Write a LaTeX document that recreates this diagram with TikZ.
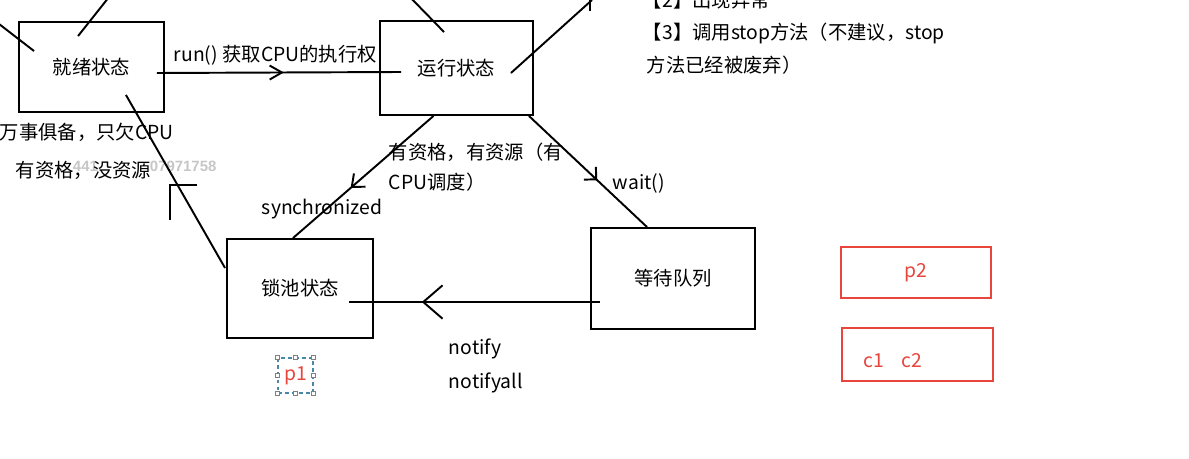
\documentclass[tikz,border=0pt]{standalone}
\usepackage{fontspec}
\setmainfont{Noto Sans CJK SC}
\newfontfamily\wmfont{Liberation Sans}
\usetikzlibrary{arrows.meta,calc,decorations.markings}
\definecolor{markred}{HTML}{E8453C}
\definecolor{selblue}{HTML}{4A86A8}
\tikzset{
  state/.style={draw, line width=1.1pt, inner sep=0pt},
  redbox/.style={draw=markred, line width=1.1pt, text=markred, inner sep=0pt},
  note/.style={anchor=west, inner sep=0pt},
  midarrow/.style n args={3}{postaction={decorate},
    decoration={markings, mark=at position #1 with {\arrow{Straight Barb[length=#2,width=#3]}}}},
}

\begin{document}
\begin{tikzpicture}[x=0.02cm, y=-0.02cm, line width=1.1pt, font=\fontsize{11pt}{13pt}\selectfont]
\useasboundingbox (0,0) rectangle (1189,459);
\clip (0,0) rectangle (1189,459);

% watermark under the text
\node[note, text=gray!45, font=\wmfont\bfseries\fontsize{8.5pt}{10pt}\selectfont] (wm1) at (72,166) {441};
\node[note, text=gray!45, font=\wmfont\bfseries\fontsize{8.5pt}{10pt}\selectfont] (wm2) at (149,166) {07971758};

% states
\node[state, minimum width=2.9cm, minimum height=1.8cm] (ready) at (91.5,67) {就绪状态};
\node[state, minimum width=3.06cm, minimum height=1.88cm] (running) at (456.5,68) {运行状态};
\node[state, minimum width=2.92cm, minimum height=1.98cm] (lockpool) at (300,288.5) {锁池状态};
\node[state, minimum width=3.28cm, minimum height=2.02cm] (waitq) at (673,278.5) {等待队列};

% red marks
\node[redbox, minimum width=3cm, minimum height=1.02cm] (p2box) at (916,272.5) {p2};
\node[redbox, minimum width=3.02cm, minimum height=1.06cm] (cbox) at (917.5,354.5) {};
\node[note, text=markred] (ctext) at (863,361) {c1\hspace{0.9em}c2};
\node[draw=selblue, line width=0.6pt, dash pattern=on 2pt off 2pt, minimum size=0.7cm,
  inner sep=0pt, text=markred] (p1) at (295.5,375.5) {p1\hspace{3pt}};
\foreach \a in {north west,north,north east,east,south east,south,south west,west}
  \draw[gray, line width=0.4pt, fill=white] (p1.\a) ++(-2,-2) rectangle ++(4,4);

% transitions
\draw[midarrow={0.52}{7pt}{8pt}] ($(ready.east)+(-8,6)$) -- ($(running.west)+(22,4)$);
\draw[midarrow={0.59}{6pt}{10pt}] ($(running.south)+(-23,0)$) -- ($(lockpool.north)+(-7,0)$);
\draw[midarrow={0.58}{5pt}{10pt}] ($(running.south east)+(-5,0)$) -- ($(waitq.north)+(-26,0)$);
\draw[midarrow={0.71}{11pt}{19pt}] ($(waitq.west)+(10,23.5)$) -- ($(lockpool.east)+(-25,13.5)$);
\draw ($(lockpool.west)+(-1,-20.5)$) -- coordinate[pos=0.477] (backtip) ($(ready.south east)+(-39,-18)$);
\draw ($(backtip)+(19,0)$) -- ($(backtip)+(-8,0)$) -- ($(backtip)+(-8,35)$);

% lines running off the picture
\coordinate (rdtop) at (113,-8);
\coordinate (rdleft) at (-10,17);
\coordinate (runtop) at (405,-8);
\coordinate (dead) at (592,0);
\draw ($(ready.north west)+(60,15)$) -- (rdtop);
\draw ($(ready.north west)+(16,30)$) -- (rdleft);
\draw ($(running.north west)+(65,12)$) -- (runtop);
\draw ($(running.east)+(-23,5)$) -- (dead);
\draw ($(dead)+(-2,-4)$) -- ($(dead)+(-2,11)$);

% labels
\node[note] (runlbl) at (173,55) {run() 获取CPU的执行权};
\node[note] (rdy1) at (-1,132) {万事俱备，只欠CPU};
\node[note] (rdy2) at (15,170) {有资格，没资源};
\node[note] (res1) at (388,152) {有资格，有资源（有};
\node[note] (res2) at (388,182) {CPU调度）};
\node[note] (synlbl) at (261,209) {synchronized};
\node[note] (waitlbl) at (612,183) {wait()};
\node[note] (ntf1) at (448,349) {notify};
\node[note] (ntf2) at (448,383) {notifyall};
\node[note] (dead2) at (642,0) {【2】出现异常};
\node[note] (dead3) at (642,33) {【3】调用stop方法（不建议，stop};
\node[note] (dead4) at (646,65) {方法已经被废弃）};
\end{tikzpicture}
\end{document}
